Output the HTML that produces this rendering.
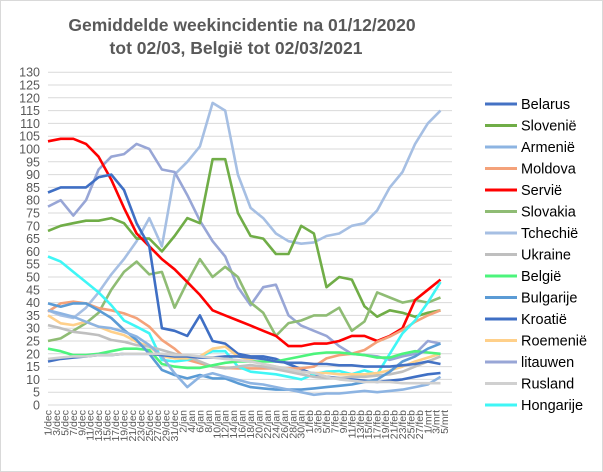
<!DOCTYPE html>
<html><head><meta charset="utf-8"><style>
body{margin:0;background:#fff}
svg{display:block;font-family:"Liberation Sans",sans-serif}
</style></head><body>
<svg width="603" height="472" viewBox="0 0 603 472" xmlns="http://www.w3.org/2000/svg">
<rect x="0.5" y="0.5" width="602" height="471" fill="#fff" stroke="#d9d9d9"/>
<text x="242" y="31" text-anchor="middle" font-size="17.5" font-weight="bold" fill="#595959">Gemiddelde weekincidentie  na 01/12/2020</text>
<text x="236" y="54" text-anchor="middle" font-size="17.5" font-weight="bold" fill="#595959">tot 02/03, België tot 02/03/2021</text>
<g id="grid"></g><g id="yt"></g><g id="xt"></g><g id="series"></g><g id="legend"></g>
</svg>
<script>
const yTicks=[0,5,10,15,20,25,30,35,40,45,50,55,60,65,70,75,80,85,90,95,100,105,110,115,120,125,130];
const months=["dec","jan","feb","mrt"];
const monthDays=[31,31,28,5];
const sampleStep=3;
const names=["Belarus","Slovenië","Armenië","Moldova","Servië","Slovakia","Tchechië","Ukraine","België","Bulgarije","Kroatië","Roemenië","litauwen","Rusland","Hongarije"];
const colors=["#4472c4","#70ad47","#8db4e2","#f4a27a","#ff0000","#8fbc74","#a6bfe3","#bfbfbf","#4cf47c","#5b9bd5","#3f6fc4","#ffd08a","#98a6d6","#d0d0d0","#3ff6f6"];
const belarus=[17,18,18.5,19,19.5,19.5,20,20,20,19.5,19,19,18.5,18.5,19,19,18.5,18,17,16.5,16.5,16,16,15.5,15.5,15,15,15,15.5,16,17,16];
const slovenie=[68,70,71,72,72,73,71,65,65,60,66,73,71,96,96,75,66,65,59,59,70,67,46,50,49,38.5,34.5,37,36,34.5,36,37];
const armenie=[37,35.8,34.5,32.5,30.6,30,28.6,26.7,23.4,19,12.4,7,11,12.4,11,9.8,8.5,8,7,6,5,4,4.5,4.5,5,5.5,5,5.5,6,7,8,11];
const moldova=[36.5,39.7,40.4,39.7,37.8,37,35.8,33.9,30.6,25.4,22,17.6,16.3,15,14.5,14.3,14.3,14.3,14.3,14.3,14.3,15,18.2,19.5,20,21.5,24.7,26.7,29.3,32.5,35,37];
const servie=[103,104,104,102,97,88,77,67,62,57,53,48,43,37,35,33,31,29,27,23,23,24,24,25,27,27,25,27,30,41,45,49];
const slovakia=[25,26,29,32,36,45,52,56,51,52,38,48,57,50,54,50,40,36,27,32,33,35,35,38,29,32.6,44,42,40,41,40,42];
const tchechie=[37,35,34,38,44,51,57,64,73,62,90,95,101,118,115,90,77,73,67,64,63,63.5,66,67,70,71,76,85,91,102,110,115];
const ukraine=[31.2,30,28.6,28,27.3,25.4,24.7,23.4,22.8,21.5,20,19,17,15,14.3,15,15.6,15,14,13,12,11,10.5,10.5,11,11,11.5,12,13,15,17,19];
const belgie=[22,21,19.5,19.5,20,21,22,22,21.5,16,15,14.5,14.5,15.5,16.5,17,17,17,17,18,19,20,20.5,20.5,20,19.5,18.5,18.5,20,21,20.5,20];
const bulgarije=[39.7,38.4,39.7,39.7,37,34,29.3,25.4,20,13.7,11.7,10.4,11.7,10.4,10.4,8.5,7,6.5,6,6,6,6.5,7,7.5,8,9,10,13,17,19,22,24];
const kroatie=[83,85,85,85,89,90,84,71,62,30,29,27,35,25,24,20,19,19,18,16,14,12,11,10.5,10,9.5,9,9.5,10,11,12,12.5];
const roemenie=[35,31.9,31.2,32.5,30.6,28.6,27.3,24.7,22.8,19,18.2,18.2,19,22,22.8,19,17.6,16,15,14,13,12.5,12.5,12,12,12,12.5,13.5,15,17,18.5,20];
const litauwen=[77.5,80,74,80,92,97,98,102,100,92,91,82,72,64,58,46,39,46,47,35,31,29,27,23,20,19.5,19,17.6,19,20,25,24];
const rusland=[18,18.5,19,19,19.5,19.5,20,20,20,20,19.5,19.5,19,18.5,18,17.5,17,16,15,14,13,12.5,11,10,9.5,9,9,9,8.5,8.5,8.5,8.5];
const hongarije=[58,56,52,48,44,39,33,30.6,28,17.6,17,17.6,19,21,21,15,13,12.5,12,11,10,12,13,13.3,12,13.5,12,20,28,33,40,48];
const seriesData=[belarus,slovenie,armenie,moldova,servie,slovakia,tchechie,ukraine,belgie,bulgarije,kroatie,roemenie,litauwen,rusland,hongarije];
const drawOrder=[6,12,1,5,4,10,3,14,11,7,8,9,2,0,13];

const NS="http://www.w3.org/2000/svg";
const X0=48,DX=4.22,Y0=405,PX=2.56,XR=452;
const xS=d=>X0+d*DX;
const yS=v=>Y0-v*PX;
function mk(t,a,p){const e=document.createElementNS(NS,t);for(const k in a)e.setAttribute(k,a[k]);p.appendChild(e);return e;}
const grid=document.getElementById('grid'),yt=document.getElementById('yt'),xt=document.getElementById('xt'),sg=document.getElementById('series'),lg=document.getElementById('legend');
yTicks.forEach(v=>{
 const l=mk('line',{x1:X0,x2:XR,y1:yS(v),y2:yS(v),stroke:'#d9d9d9','stroke-width':1},grid);
 
 
 const t=mk('text',{x:40,y:yS(v)+4.5,'text-anchor':'end','font-size':12.5,fill:'#595959'},yt);
 t.textContent=v;
 
 
});
let day=0;
months.forEach((m,mi)=>{
 for(let dd=1;dd<=monthDays[mi];dd++){
  if(day%2===0){
   const x=xS(day)+3.5;
   const t=mk('text',{x:x,y:410,'text-anchor':'end','font-size':10.5,fill:'#595959',transform:`rotate(-90 ${x} 410)`},xt);
   t.textContent=dd+'/'+m;
   
   
  }
  day++;
 }
});
drawOrder.forEach(si=>{
 const pts=seriesData[si].map((v,i)=>xS(i*sampleStep).toFixed(1)+','+yS(v).toFixed(1)).join(' ');
 const p=mk('polyline',{points:pts,fill:'none',stroke:colors[si],'stroke-width':2.6,'stroke-linejoin':'round'},sg);
 
 
});
names.forEach((n,i)=>{
 const y=104+i*21.5;
 const l=mk('line',{x1:485,x2:517,y1:y,y2:y,stroke:colors[i],'stroke-width':3},lg);
 
 
 const t=mk('text',{x:521,y:y+5,'font-size':14.5,fill:'#000'},lg);
 t.textContent=n;
 
 
});
</script>
</body></html>
